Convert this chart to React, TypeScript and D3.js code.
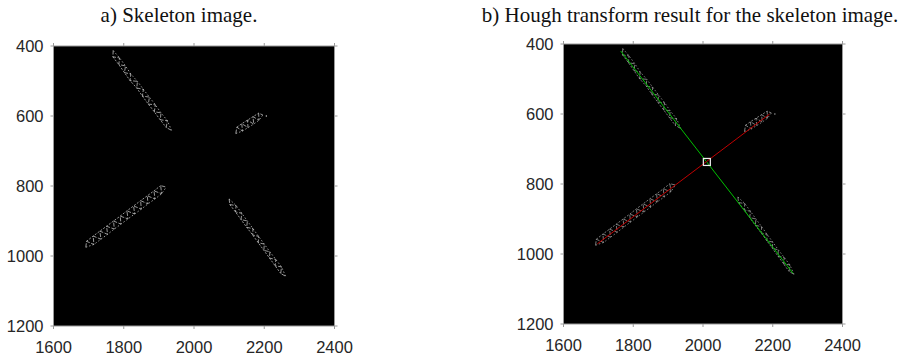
import React from "react";
import * as d3 from "d3";

const xTicks = [1600, 1800, 2000, 2200, 2400];
const yTicks = [400, 600, 800, 1000, 1200];
const titles = ["a) Skeleton image.", "b) Hough transform result for the skeleton image."];

// skeleton strokes (image coordinates, zig-zag)
const strokeNW: [number, number][] = [
  [1770, 413], [1769, 431], [1788, 434], [1786, 453], [1805, 457], [1802, 476],
  [1820, 480], [1818, 499], [1839, 501], [1837, 520], [1856, 524], [1853, 543],
  [1873, 546], [1870, 566], [1890, 568], [1887, 588], [1906, 591], [1904, 611],
  [1924, 613], [1921, 633], [1936, 641],
];
const strokeNE: [number, number][] = [
  [2119, 650], [2122, 632], [2138, 643], [2136, 622], [2154, 633], [2152, 612],
  [2170, 623], [2168, 602], [2185, 612], [2184, 592], [2196, 597],
];
const strokeSW: [number, number][] = [
  [1692, 975], [1694, 958], [1715, 967], [1713, 943], [1735, 952], [1732, 929],
  [1754, 938], [1751, 915], [1773, 923], [1771, 900], [1792, 909], [1790, 886],
  [1812, 894], [1809, 871], [1831, 880], [1828, 857], [1850, 866], [1848, 842],
  [1869, 851], [1867, 828], [1889, 837], [1886, 814], [1908, 822], [1905, 799],
  [1921, 803],
];
const strokeSE: [number, number][] = [
  [2100, 837], [2102, 853], [2120, 856], [2118, 874], [2136, 878], [2134, 896],
  [2152, 900], [2150, 918], [2168, 922], [2167, 940], [2184, 944], [2183, 962],
  [2200, 966], [2199, 984], [2216, 988], [2215, 1006], [2233, 1010], [2231, 1028],
  [2249, 1031], [2247, 1050], [2261, 1058],
];
const strokes = [strokeNW, strokeNE, strokeSW, strokeSE];
const strayDots: [number, number][] = [[2206, 600]];

// Hough lines
const greenLine: [number, number][] = [[1764, 420], [2258, 1055]];
const redLine: [number, number][] = [[1697, 971], [2191, 600]];
const intersection: [number, number] = [2011, 737];

type PanelProps = {
  left: number; top: number; w: number; h: number;
  title: string; titleX: number; hough: boolean;
};

function Panel({ left, top, w, h, title, titleX, hough }: PanelProps) {
  const x = d3.scaleLinear().domain([1600, 2400]).range([left, left + w]);
  const y = d3.scaleLinear().domain([400, 1200]).range([top, top + h]);
  const line = d3.line<[number, number]>().x((d) => x(d[0])).y((d) => y(d[1]));
  const skelColor = hough ? "#b0b0b0" : "#d8d8d8";
  const axisColor = "#9a9a9a";
  const tl = 3;
  return (
    <g>
      <text x={titleX} y={22} textAnchor="middle" fontFamily="'Liberation Serif', 'Times New Roman', serif" fontSize={21} fill="#111">{title}</text>
      <rect x={left} y={top} width={w} height={h} fill="#000" stroke={axisColor} strokeWidth={1} />
      {strokes.map((s, i) => (
        <g key={i} fill="none" stroke={skelColor} strokeWidth={0.7}>
          <path d={line(s) || ""} strokeDasharray="4 1.5" />
          <path d={line(s.filter((_, j) => j % 2 === 0)) || ""} strokeDasharray="1.5 2" />
          <path d={line(s.filter((_, j) => j % 2 === 1)) || ""} strokeDasharray="2 1.5" />
        </g>
      ))}
      {strayDots.map((d, i) => (
        <rect key={i} x={x(d[0]) - 0.6} y={y(d[1]) - 0.6} width={1.2} height={1.2} fill={skelColor} />
      ))}
      {hough && (
        <g>
          <path d={line(greenLine) || ""} stroke="#00c000" strokeWidth={1} fill="none" />
          <path d={line(redLine) || ""} stroke="#c00000" strokeWidth={1} fill="none" />
          <rect x={x(intersection[0]) - 3.5} y={y(intersection[1]) - 3.5} width={7} height={7} fill="none" stroke="#f0f0f0" strokeWidth={1.2} />
        </g>
      )}
      {xTicks.map((t) => (
        <g key={"x" + t}>
          <line x1={x(t)} x2={x(t)} y1={top + h} y2={top + h + tl} stroke={axisColor} />
          <line x1={x(t)} x2={x(t)} y1={top} y2={top - tl} stroke={axisColor} />
          <text x={x(t)} y={top + h + 27} textAnchor="middle" fontFamily="'Liberation Sans', Arial, sans-serif" fontSize={16.5} fill="#262626">{t}</text>
        </g>
      ))}
      {yTicks.map((t) => (
        <g key={"y" + t}>
          <line x1={left} x2={left - tl} y1={y(t)} y2={y(t)} stroke={axisColor} />
          <line x1={left + w} x2={left + w + tl} y1={y(t)} y2={y(t)} stroke={axisColor} />
          <text x={left - 10} y={y(t)} dy="0.36em" textAnchor="end" fontFamily="'Liberation Sans', Arial, sans-serif" fontSize={16.5} fill="#262626">{t}</text>
        </g>
      ))}
    </g>
  );
}

export default function App() {
  return (
    <svg width={902} height={359} style={{ position: "absolute", left: 0, top: 0, background: "#fff" }}>
      <Panel left={53.5} top={46} w={281} h={280} title={titles[0]} titleX={179} hough={false} />
      <Panel left={563.5} top={44} w={279} h={280} title={titles[1]} titleX={690} hough={true} />
    </svg>
  );
}
